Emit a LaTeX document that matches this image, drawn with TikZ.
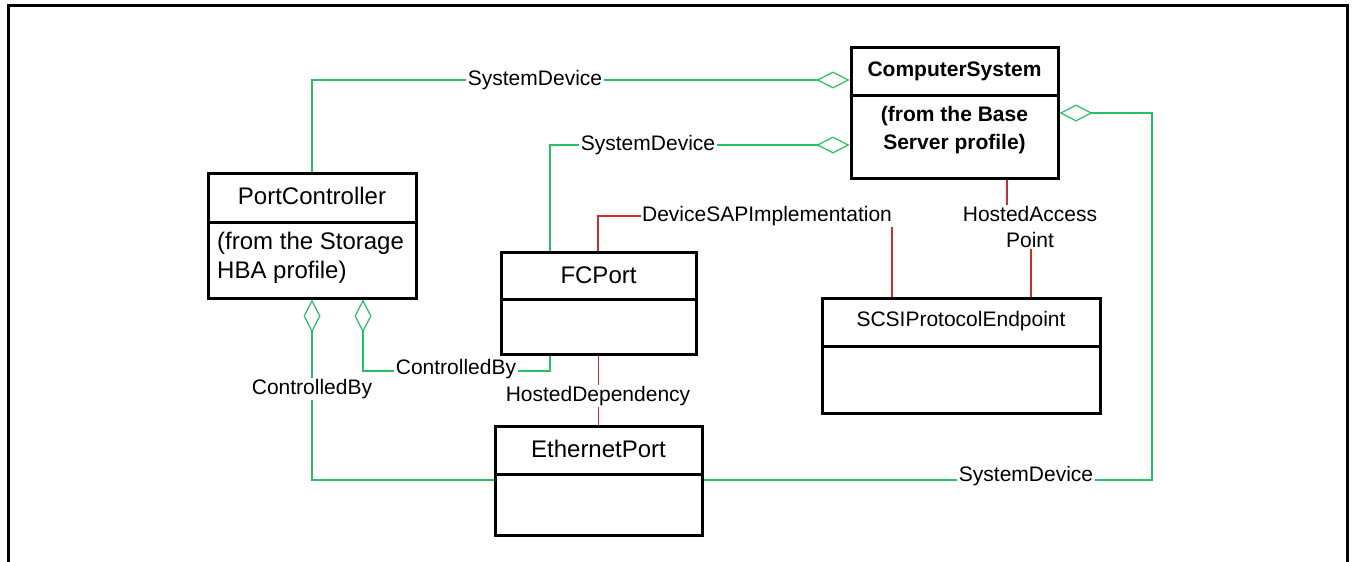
\documentclass[tikz,border=0pt]{standalone}
\usepackage{fontspec}
\setmainfont{Liberation Sans}
\usetikzlibrary{arrows.meta}
\definecolor{assoc}{RGB}{40,190,100}
\definecolor{dep}{RGB}{205,45,45}
\begin{document}
\begin{tikzpicture}[x=1pt,y=-1pt,
  classbox/.style={draw, line width=3pt, inner sep=0pt},
  divider/.style={line width=3pt},
  bigtext/.style={font=\fontsize{24}{29}\selectfont, inner sep=0pt},
  midtext/.style={font=\fontsize{21}{28}\selectfont, inner sep=0pt},
  boldtext/.style={font=\bfseries\fontsize{21}{28}\selectfont, inner sep=0pt, align=center},
  lbl/.style={fill=white, inner sep=1.5pt, font=\fontsize{21}{26}\selectfont},
  assocline/.style={draw=assoc, line width=1.2pt},
  depline/.style={draw=dep, line width=1.2pt}
]
\useasboundingbox (0,0) rectangle (1353,562);
% outer frame
\draw[line width=3pt] (8,570) -- (8,5) -- (1347,5) -- (1347,570);

% class boxes
\node[classbox, minimum width=208pt, minimum height=125pt] (pc) at (312,235.5) {};
\draw[divider] (pc.west |- 0,222) -- (pc.east |- 0,222);
\node[bigtext] (pct) at (312,196) {PortController};
\node[bigtext, align=left, anchor=west, font=\fontsize{24}{29}\selectfont] (pcb) at (217,258) {(from the Storage\\HBA profile)};

\node[classbox, minimum width=207pt, minimum height=131pt] (cs) at (954.5,112.5) {};
\draw[divider] (cs.west |- 0,95) -- (cs.east |- 0,95);
\node[boldtext] (cst) at (954.5,71) {ComputerSystem};
\node[boldtext] (csb) at (954.5,130.5) {(from the Base\\Server profile)};

\node[classbox, minimum width=195pt, minimum height=102pt] (fc) at (598.5,303) {};
\draw[divider] (fc.west |- 0,299) -- (fc.east |- 0,299);
\node[bigtext] (fct) at (598.5,275) {FCPort};

\node[classbox, minimum width=278pt, minimum height=115pt] (sc) at (961,355.5) {};
\draw[divider] (sc.west |- 0,346) -- (sc.east |- 0,346);
\node[midtext] (sct) at (961,321) {SCSIProtocolEndpoint};

\node[classbox, minimum width=207pt, minimum height=109pt] (ee) at (598.5,480.5) {};
\draw[divider] (ee.west |- 0,474) -- (ee.east |- 0,474);
\node[bigtext] (eet) at (598.5,449) {EthernetPort};

% associations (green)
\draw[assocline, -{Diamond[open, length=33pt, width=17pt, fill=white]}] (pc.north) |- (cs.west |- 0,80);
\draw[assocline, -{Diamond[open, length=33pt, width=17pt, fill=white]}] (550,0 |- fc.north) |- (cs.west |- 0,145);
\draw[assocline, {Diamond[open, length=33pt, width=17pt, fill=white]}-] (cs.east |- 0,113) -- (1152,113) -- (1152,480) -- (ee.east |- 0,480);
\draw[assocline, {Diamond[open, length=33pt, width=17pt, fill=white]}-] (363,0 |- pc.south) -- (363,371) -| (550,0 |- fc.south);
\draw[assocline, {Diamond[open, length=33pt, width=17pt, fill=white]}-] (312,0 |- pc.south) |- (ee.west |- 0,480);

% dependencies (red)
\draw[depline] (598,0 |- fc.north) |- (892,216) -- (892,0 |- sc.north);
\draw[depline] (1007,0 |- cs.south) -- (1007,226) -- (1031,226) -- (1031,0 |- sc.north);
\draw[depline] (fc.south) -- (ee.north);

% labels
\node[lbl] (l1) at (535,80) {SystemDevice};
\node[lbl] (l2) at (648,145) {SystemDevice};
\node[lbl] (l3) at (1026,476) {SystemDevice};
\node[lbl] (l4) at (767,216) {DeviceSAPImplementation};
\node[lbl, align=center, font=\fontsize{21}{26}\selectfont] (l5) at (1030,227) {HostedAccess\\Point};
\node[lbl] (l6) at (598,396) {HostedDependency};
\node[lbl] (l7) at (456,369) {ControlledBy};
\node[lbl] (l8) at (312,389) {ControlledBy};
\end{tikzpicture}
\end{document}
